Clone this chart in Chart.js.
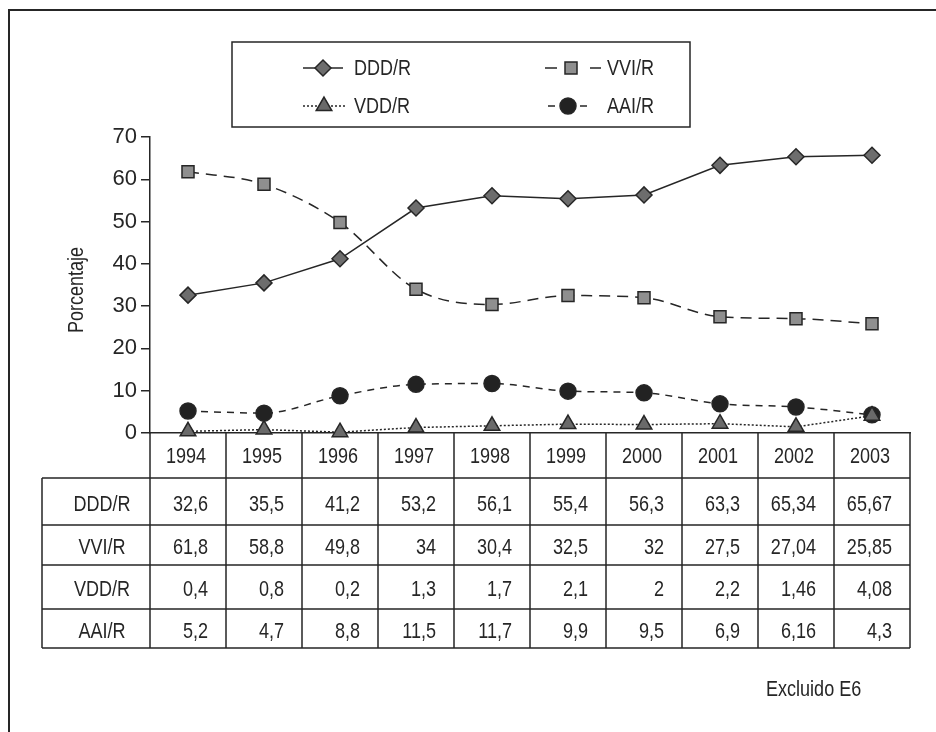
<!DOCTYPE html>
<html>
<head>
<meta charset="utf-8">
<script src="https://cdn.jsdelivr.net/npm/chart.js@4.4.1/dist/chart.umd.min.js"></script>
<style>
html,body{margin:0;padding:0;background:#fff}
</style>
</head>
<body>
<canvas id="myChart" width="936" height="732"></canvas>
<script>
const years = ['1994','1995','1996','1997','1998','1999','2000','2001','2002','2003'];
const DDD = [32.6, 35.5, 41.2, 53.2, 56.1, 55.4, 56.3, 63.3, 65.34, 65.67];
const VVI = [61.8, 58.8, 49.8, 34, 30.4, 32.5, 32, 27.5, 27.04, 25.85];
const VDD = [0.4, 0.8, 0.2, 1.3, 1.7, 2.1, 2, 2.2, 1.46, 4.08];
const AAI = [5.2, 4.7, 8.8, 11.5, 11.7, 9.9, 9.5, 6.9, 6.16, 4.3];
const yTicks = [0, 10, 20, 30, 40, 50, 60, 70];
const names = ['DDD/R', 'VVI/R', 'VDD/R', 'AAI/R'];
const yTitle = 'Porcentaje';
const note = 'Excluido E6';

const FONT = "'Liberation Sans','Arial',sans-serif";
const INK = '#262626';
const NARROW = 0.82; // squeeze Liberation Sans to look like a condensed face

function fmt(v){ return String(v).replace('.', ','); }

// condensed text: squeeze horizontally around the anchor point
function txt(c, s, x, y, align){
  c.save();
  c.translate(x, y);
  c.scale(NARROW, 1);
  c.textAlign = align;
  c.fillText(s, 0, 0);
  c.restore();
}

const tablePlugin = {
  id: 'tableLegend',
  beforeDraw(chart){
    const c = chart.ctx;
    c.save();
    c.fillStyle = '#fff';
    c.fillRect(0, 0, chart.width, chart.height);
    // outer frame (left and top)
    c.strokeStyle = INK;
    c.lineWidth = 2;
    c.beginPath();
    c.moveTo(9, chart.height);
    c.lineTo(9, 10);
    c.lineTo(chart.width, 10);
    c.stroke();
    c.restore();
  },
  afterDraw(chart){
    const c = chart.ctx;
    const x = chart.scales.x;
    const area = chart.chartArea;
    const colW = (x.right - x.left) / years.length;
    c.save();
    c.strokeStyle = INK;
    c.fillStyle = INK;
    c.lineWidth = 1.5;
    c.font = '22px ' + FONT;
    c.textBaseline = 'middle';

    // table
    const top = area.bottom;
    const heights = [45, 47, 40, 44, 39];
    const rowsY = [top];
    heights.forEach(h => rowsY.push(rowsY[rowsY.length - 1] + h));
    const labelLeft = 42;
    const rows = [DDD, VVI, VDD, AAI];

    c.beginPath();
    for (let i = 0; i <= years.length; i++) {
      const px = x.left + i * colW;
      c.moveTo(px, top); c.lineTo(px, rowsY[5]);
    }
    c.moveTo(labelLeft, rowsY[1]); c.lineTo(labelLeft, rowsY[5]);
    for (let r = 1; r <= 5; r++) {
      c.moveTo(labelLeft, rowsY[r]); c.lineTo(x.right, rowsY[r]);
    }
    c.stroke();

    years.forEach((yr, i) => {
      txt(c, yr, x.getPixelForValue(i) - 2, (rowsY[0] + rowsY[1]) / 2 + 1, 'center');
    });
    rows.forEach((vals, r) => {
      const cy = (rowsY[r + 1] + rowsY[r + 2]) / 2 + 3;
      txt(c, names[r], (labelLeft + x.left) / 2 + 6, cy, 'center');
      vals.forEach((v, i) => {
        txt(c, fmt(v), x.getPixelForValue(i) + colW / 2 - 18, cy, 'right');
      });
    });

    // y title
    c.save();
    c.translate(77, 290);
    c.rotate(-Math.PI / 2);
    txt(c, yTitle, 0, 0, 'center');
    c.restore();

    // note
    txt(c, note, 766, 690, 'left');

    // legend box
    c.lineWidth = 1.5;
    c.strokeRect(232, 42, 458, 85);
    const spots = [
      {x1: 303, x2: 343, m: 323, t: 354, y: 68, dash: []},
      {x1: 545, x2: 601, m: 571, t: 607, y: 68, dash: [12, 33]},
      {x1: 303, x2: 345, m: 324, t: 354, y: 106, dash: [2, 2]},
      {x1: 548, x2: 588, m: 568, t: 607, y: 106, dash: [7, 25]}
    ];
    chart.data.datasets.forEach((ds, i) => {
      const s = spots[i];
      c.save();
      c.strokeStyle = ds.borderColor;
      c.lineWidth = ds.borderWidth;
      c.setLineDash(s.dash);
      c.beginPath();
      c.moveTo(s.x1, s.y); c.lineTo(s.x2, s.y);
      c.stroke();
      c.setLineDash([]);
      c.fillStyle = ds.pointBackgroundColor;
      c.strokeStyle = ds.pointBorderColor;
      c.lineWidth = ds.pointBorderWidth;
      Chart.helpers.drawPoint(c, {pointStyle: ds.pointStyle, radius: ds.pointRadius, rotation: 0, borderWidth: ds.pointBorderWidth}, s.m, s.y);
      c.restore();
      txt(c, ds.label, s.t, s.y + 1, 'left');
    });
    c.restore();
  }
};

function series(label, data, style, fill, dash, smooth, radius) {
  return {
    label: label,
    data: data,
    borderColor: INK,
    borderWidth: 1.5,
    borderDash: dash,
    cubicInterpolationMode: smooth ? 'monotone' : 'default',
    tension: 0,
    pointStyle: style,
    pointRadius: radius,
    pointHoverRadius: radius,
    pointBackgroundColor: fill,
    pointBorderColor: INK,
    pointBorderWidth: 1.5,
    clip: false
  };
}

const ctx = document.getElementById('myChart').getContext('2d');
const myChart = new Chart(ctx, {
  type: 'line',
  data: {
    labels: years,
    datasets: [
      series(names[0], DDD, 'rectRot', '#6d6d6d', [], false, 8),
      series(names[1], VVI, 'rect', '#8f8f8f', [11, 7], true, 8.5),
      series(names[2], VDD, 'triangle', '#6a6a6a', [2, 2], false, 9),
      series(names[3], AAI, 'circle', '#222222', [7, 6], true, 8)
    ]
  },
  options: {
    responsive: false,
    animation: false,
    events: [],
    layout: { padding: { left: 0, right: 26, top: 137, bottom: 0 } },
    scales: {
      x: {
        offset: true,
        grid: { display: false },
        ticks: { display: false },
        border: { display: true, color: INK, width: 1.5 },
        afterFit: function(s){ s.height = 732 - 433; }
      },
      y: {
        min: 0,
        max: 70,
        afterBuildTicks: function(s){ s.ticks = yTicks.map(v => ({value: v})); },
        grid: { drawOnChartArea: false, drawTicks: true, tickLength: 9, color: INK, lineWidth: 1.5 },
        border: { display: true, color: INK, width: 1.5 },
        ticks: { color: INK, padding: 4, font: { family: FONT, size: 22 } },
        afterFit: function(s){ s.width = 150; }
      }
    },
    plugins: {
      legend: { display: false },
      title: { display: false },
      tooltip: { enabled: false }
    }
  },
  plugins: [tablePlugin]
});
</script>
</body>
</html>
